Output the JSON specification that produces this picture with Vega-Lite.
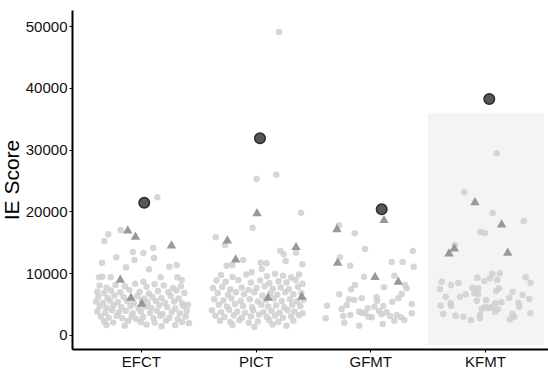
{
  "$schema": "https://vega.github.io/schema/vega-lite/v6.json",
  "width": 476,
  "height": 339,
  "autosize": "none",
  "padding": {"left": 72, "top": 10, "right": 0, "bottom": 20},
  "background": "white",
  "config": {"view": {"stroke": null}, "axis": {"grid": false}},
  "datasets": {
    "bg": [{"x1": 3.504, "x2": 4.515, "y1": -1620, "y2": 35900}],
    "pts": [
      {"pos":1.144,"score":22280},{"pos":0.717,"score":16290},{"pos":0.682,"score":15210},{"pos":0.825,"score":16990},{"pos":0.93,"score":13430},{"pos":1.022,"score":13270},{"pos":1.109,"score":14080},{"pos":0.786,"score":12570},{"pos":0.945,"score":12140},{"pos":1.115,"score":12460},{"pos":0.662,"score":11700},{"pos":0.871,"score":10950},{"pos":1.072,"score":10630},{"pos":1.249,"score":11050},{"pos":1.313,"score":11330},{"pos":0.635,"score":9340},{"pos":0.665,"score":9430},{"pos":0.738,"score":9340},{"pos":1.022,"score":8620},{"pos":1.173,"score":9340},{"pos":1.318,"score":9340},{"pos":1.356,"score":8900},
      {"pos":0.64,"score":8000},{"pos":0.70,"score":7700},{"pos":0.78,"score":8100},{"pos":0.86,"score":7900},{"pos":0.95,"score":8300},{"pos":1.05,"score":7800},{"pos":1.12,"score":8200},{"pos":1.20,"score":8000},{"pos":1.28,"score":7600},{"pos":1.35,"score":7900},
      {"pos":0.62,"score":7000},{"pos":0.68,"score":6800},{"pos":0.74,"score":7200},{"pos":0.82,"score":6900},{"pos":0.90,"score":7300},{"pos":0.99,"score":7000},{"pos":1.07,"score":6700},{"pos":1.15,"score":7100},{"pos":1.24,"score":6900},{"pos":1.31,"score":7200},{"pos":1.38,"score":6800},
      {"pos":0.63,"score":6200},{"pos":0.71,"score":6000},{"pos":0.77,"score":6400},{"pos":0.85,"score":6100},{"pos":0.97,"score":6300},{"pos":1.03,"score":5900},{"pos":1.10,"score":6200},{"pos":1.18,"score":6000},{"pos":1.26,"score":6300},{"pos":1.33,"score":5900},
      {"pos":0.61,"score":5400},{"pos":0.67,"score":5200},{"pos":0.73,"score":5600},{"pos":0.80,"score":5300},{"pos":0.88,"score":5500},{"pos":0.94,"score":5100},{"pos":1.01,"score":5600},{"pos":1.06,"score":5300},{"pos":1.13,"score":5500},{"pos":1.21,"score":5200},{"pos":1.29,"score":5400},{"pos":1.36,"score":5100},{"pos":1.41,"score":4900},
      {"pos":0.64,"score":4600},{"pos":0.70,"score":4400},{"pos":0.76,"score":4800},{"pos":0.83,"score":4500},{"pos":0.91,"score":4700},{"pos":0.98,"score":4300},{"pos":1.04,"score":4600},{"pos":1.09,"score":4400},{"pos":1.16,"score":4800},{"pos":1.23,"score":4500},{"pos":1.30,"score":4300},{"pos":1.37,"score":4700},
      {"pos":0.62,"score":3800},{"pos":0.69,"score":3600},{"pos":0.75,"score":4000},{"pos":0.81,"score":3700},{"pos":0.87,"score":3900},{"pos":0.93,"score":3500},{"pos":1.00,"score":3800},{"pos":1.08,"score":3600},{"pos":1.14,"score":3900},{"pos":1.19,"score":3400},{"pos":1.27,"score":3700},{"pos":1.34,"score":3500},{"pos":1.40,"score":3900},
      {"pos":0.65,"score":3000},{"pos":0.72,"score":2800},{"pos":0.79,"score":3100},{"pos":0.84,"score":2700},{"pos":0.92,"score":3000},{"pos":0.96,"score":2600},{"pos":1.02,"score":2900},{"pos":1.11,"score":2700},{"pos":1.17,"score":3100},{"pos":1.25,"score":2800},{"pos":1.32,"score":2600},{"pos":1.39,"score":3000},
      {"pos":0.68,"score":2200},{"pos":0.76,"score":2000},{"pos":0.89,"score":2300},{"pos":1.00,"score":2100},{"pos":1.12,"score":2000},{"pos":1.22,"score":2300},{"pos":1.36,"score":2100},
      {"pos":0.70,"score":1600},{"pos":0.86,"score":1500},{"pos":1.05,"score":1700},{"pos":1.18,"score":1400},{"pos":1.30,"score":1600},{"pos":1.42,"score":1900},
      {"pos":2.207,"score":49030},{"pos":2.010,"score":25240},{"pos":2.181,"score":25940},{"pos":2.397,"score":19790},{"pos":1.975,"score":17360},{"pos":1.653,"score":15810},{"pos":1.734,"score":14560},{"pos":2.353,"score":13320},{"pos":2.216,"score":13640},{"pos":2.245,"score":13060},{"pos":1.893,"score":12140},{"pos":1.798,"score":11330},{"pos":1.749,"score":11210},{"pos":2.045,"score":11700},{"pos":2.097,"score":11600},{"pos":2.263,"score":11970},{"pos":2.408,"score":11440},{"pos":1.967,"score":10150},{"pos":2.054,"score":10680},
      {"pos":1.70,"score":9700},{"pos":1.80,"score":9400},{"pos":1.92,"score":9800},{"pos":2.10,"score":9500},{"pos":2.17,"score":9900},{"pos":2.24,"score":9600},{"pos":2.31,"score":9300},{"pos":2.38,"score":9800},
      {"pos":1.66,"score":8800},{"pos":1.74,"score":8600},{"pos":1.85,"score":8900},{"pos":1.96,"score":8500},{"pos":2.04,"score":8800},{"pos":2.12,"score":8400},{"pos":2.20,"score":8700},{"pos":2.27,"score":8500},{"pos":2.35,"score":8900},{"pos":2.41,"score":8300},
      {"pos":1.63,"score":7600},{"pos":1.71,"score":7800},{"pos":1.78,"score":7400},{"pos":1.88,"score":7700},{"pos":1.94,"score":7300},{"pos":2.01,"score":7600},{"pos":2.08,"score":7900},{"pos":2.15,"score":7500},{"pos":2.22,"score":7700},{"pos":2.29,"score":7400},{"pos":2.37,"score":7800},
      {"pos":1.67,"score":6800},{"pos":1.76,"score":6500},{"pos":1.83,"score":6900},{"pos":1.90,"score":6600},{"pos":1.99,"score":6900},{"pos":2.06,"score":6400},{"pos":2.13,"score":6800},{"pos":2.19,"score":6500},{"pos":2.26,"score":6900},{"pos":2.33,"score":6600},{"pos":2.40,"score":6800},
      {"pos":1.64,"score":5800},{"pos":1.72,"score":5600},{"pos":1.79,"score":5900},{"pos":1.87,"score":5500},{"pos":1.95,"score":5800},{"pos":2.02,"score":5400},{"pos":2.09,"score":5700},{"pos":2.16,"score":5900},{"pos":2.23,"score":5500},{"pos":2.30,"score":5800},{"pos":2.36,"score":5400},{"pos":2.42,"score":5700},
      {"pos":1.68,"score":4900},{"pos":1.75,"score":4600},{"pos":1.82,"score":5000},{"pos":1.89,"score":4700},{"pos":1.97,"score":4500},{"pos":2.05,"score":4900},{"pos":2.11,"score":4600},{"pos":2.18,"score":4800},{"pos":2.25,"score":4500},{"pos":2.32,"score":4900},{"pos":2.39,"score":4700},
      {"pos":1.62,"score":4000},{"pos":1.70,"score":3700},{"pos":1.77,"score":4100},{"pos":1.84,"score":3800},{"pos":1.91,"score":3600},{"pos":1.98,"score":4000},{"pos":2.07,"score":3700},{"pos":2.14,"score":3900},{"pos":2.21,"score":3600},{"pos":2.28,"score":4000},{"pos":2.34,"score":3800},{"pos":2.41,"score":3500},
      {"pos":1.65,"score":3100},{"pos":1.73,"score":2900},{"pos":1.81,"score":3200},{"pos":1.88,"score":2800},{"pos":1.96,"score":3000},{"pos":2.03,"score":3300},{"pos":2.10,"score":2900},{"pos":2.17,"score":3100},{"pos":2.24,"score":2800},{"pos":2.31,"score":3000},{"pos":2.38,"score":3200},
      {"pos":1.69,"score":2300},{"pos":1.78,"score":2100},{"pos":1.86,"score":2400},{"pos":1.94,"score":2000},{"pos":2.02,"score":2200},{"pos":2.12,"score":2400},{"pos":2.20,"score":2100},{"pos":2.33,"score":2300},
      {"pos":1.80,"score":1600},{"pos":1.99,"score":1300},{"pos":2.15,"score":1700},{"pos":2.27,"score":1500},
      {"pos":2.728,"score":17750},{"pos":2.865,"score":16450},{"pos":2.955,"score":13910},{"pos":3.371,"score":13590},{"pos":2.736,"score":12570},{"pos":2.826,"score":11210},{"pos":3.187,"score":11810},{"pos":3.283,"score":11810},{"pos":3.379,"score":11050},{"pos":2.946,"score":9430},{"pos":3.210,"score":9590},{"pos":3.120,"score":7720},{"pos":3.318,"score":7560},{"pos":3.303,"score":8090},{"pos":2.867,"score":8090},{"pos":2.832,"score":7390},{"pos":2.730,"score":6590},{"pos":3.274,"score":6630},{"pos":3.056,"score":6100},{"pos":2.926,"score":5940},{"pos":2.815,"score":5780},{"pos":2.861,"score":5660},{"pos":3.245,"score":5940},{"pos":3.193,"score":5390},{"pos":2.623,"score":4740},{"pos":2.795,"score":4850},{"pos":2.978,"score":4320},{"pos":3.036,"score":4580},{"pos":3.114,"score":4690},{"pos":2.751,"score":4210},{"pos":3.362,"score":5020},{"pos":2.904,"score":3770},{"pos":2.955,"score":3510},{"pos":3.077,"score":3880},{"pos":3.143,"score":3670},{"pos":3.172,"score":3070},{"pos":3.231,"score":3240},{"pos":3.268,"score":2860},{"pos":3.362,"score":3510},{"pos":2.827,"score":3240},{"pos":2.765,"score":3070},{"pos":2.612,"score":2700},{"pos":3.014,"score":2860},{"pos":3.100,"score":3350},{"pos":2.904,"score":1500},{"pos":2.774,"score":1990},{"pos":3.109,"score":1780},{"pos":3.210,"score":2310},{"pos":3.297,"score":2430},{"pos":2.985,"score":2960},{"pos":2.926,"score":3610},{"pos":3.060,"score":5500},
      {"pos":4.103,"score":29400},{"pos":3.821,"score":23090},{"pos":4.068,"score":19740},{"pos":4.338,"score":18450},{"pos":3.963,"score":16670},{"pos":4.001,"score":16500},{"pos":3.739,"score":14560},
      {"pos":3.623,"score":8620},{"pos":3.704,"score":8090},{"pos":3.768,"score":8410},{"pos":3.934,"score":9270},{"pos":3.995,"score":8740},{"pos":4.065,"score":9920},{"pos":4.129,"score":9980},{"pos":4.108,"score":8900},{"pos":4.044,"score":9170},{"pos":4.356,"score":9340},{"pos":4.397,"score":8460},{"pos":3.608,"score":7440},{"pos":3.893,"score":7650},{"pos":3.942,"score":7560},{"pos":4.123,"score":7560},{"pos":4.097,"score":7120},{"pos":3.907,"score":6750},{"pos":3.942,"score":6630},{"pos":4.242,"score":6960},{"pos":3.658,"score":6200},{"pos":3.783,"score":6200},{"pos":3.833,"score":6590},{"pos":4.329,"score":6470},{"pos":4.212,"score":6040},{"pos":4.386,"score":5820},{"pos":3.929,"score":5550},{"pos":4.010,"score":5660},{"pos":4.091,"score":5130},{"pos":4.144,"score":5290},{"pos":4.292,"score":5230},{"pos":3.614,"score":4740},{"pos":3.701,"score":5130},{"pos":3.704,"score":4740},{"pos":4.001,"score":4580},{"pos":4.030,"score":4320},{"pos":4.059,"score":4580},{"pos":4.111,"score":4160},{"pos":4.300,"score":4580},{"pos":4.088,"score":3770},{"pos":3.972,"score":4160},{"pos":3.637,"score":3400},{"pos":3.745,"score":3120},{"pos":3.811,"score":2960},{"pos":3.879,"score":2430},{"pos":3.957,"score":3240},{"pos":3.957,"score":2700},{"pos":4.242,"score":3400},{"pos":4.256,"score":2960},{"pos":4.218,"score":2540},{"pos":4.397,"score":3510}
    ],
    "tri": [
      {"pos":0.886,"score":17100},{"pos":0.953,"score":16070},{"pos":1.267,"score":14680},{"pos":0.821,"score":9110},{"pos":0.914,"score":6200},{"pos":1.008,"score":5230},
      {"pos":2.013,"score":19900},{"pos":1.754,"score":15470},{"pos":2.353,"score":14400},{"pos":1.827,"score":12410},{"pos":2.109,"score":6200},{"pos":2.403,"score":6360},
      {"pos":3.12,"score":18770},{"pos":2.710,"score":17310},{"pos":2.716,"score":11860},{"pos":3.042,"score":9550},{"pos":3.245,"score":8790},
      {"pos":3.913,"score":21680},{"pos":4.146,"score":18070},{"pos":3.733,"score":14190},{"pos":3.687,"score":13380},{"pos":4.199,"score":13480}
    ],
    "dots": [
      {"pos":1.03,"score":21400},{"pos":2.039,"score":31830},{"pos":3.100,"score":20340},{"pos":4.038,"score":38180}
    ]
  },
  "layer": [
    {
      "data": {"name": "bg"},
      "mark": {"type": "rect", "color": "#f4f4f4"},
      "encoding": {
        "x": {"field": "x1", "type": "quantitative", "scale": {"domain": [0.4, 4.55], "nice": false, "zero": false},
          "axis": {"values": [1, 2, 3, 4], "labelExpr": "['','EFCT','PICT','GFMT','KFMT'][datum.value]", "title": null, "domainColor": "black", "domainWidth": 2, "tickColor": "black", "tickSize": 3, "labelFontSize": 15, "labelColor": "#111", "labelFont": "Liberation Sans", "labelPadding": 2}},
        "x2": {"field": "x2"},
        "y": {"field": "y1", "type": "quantitative", "scale": {"domain": [-2270, 52600], "nice": false, "zero": false},
          "axis": {"values": [0, 5000, 10000, 15000, 20000, 25000, 30000, 35000, 40000, 45000, 50000], "format": "d", "labelExpr": "datum.value % 10000 == 0 ? datum.label : ''", "title": "IE Score", "titleFontSize": 21, "titleFontWeight": "normal", "titleFont": "Liberation Sans", "titleColor": "black", "titlePadding": 3, "domainColor": "black", "domainWidth": 2, "tickColor": "black", "tickSize": 3, "labelFontSize": 15, "labelColor": "#111", "labelFont": "Liberation Sans", "labelPadding": 2}},
        "y2": {"field": "y2"}
      }
    },
    {
      "data": {"name": "pts"},
      "mark": {"type": "circle", "size": 42, "color": "#cfcfcf", "opacity": 0.85},
      "encoding": {
        "x": {"field": "pos", "type": "quantitative"},
        "y": {"field": "score", "type": "quantitative"}
      }
    },
    {
      "data": {"name": "tri"},
      "mark": {"type": "point", "shape": "triangle-up", "size": 90, "filled": true, "color": "#8e8e8e", "opacity": 0.9},
      "encoding": {
        "x": {"field": "pos", "type": "quantitative"},
        "y": {"field": "score", "type": "quantitative"}
      }
    },
    {
      "data": {"name": "dots"},
      "mark": {"type": "point", "shape": "circle", "size": 110, "filled": true, "fill": "#575757", "stroke": "#2a2a2a", "strokeWidth": 1.5, "opacity": 1},
      "encoding": {
        "x": {"field": "pos", "type": "quantitative"},
        "y": {"field": "score", "type": "quantitative"}
      }
    }
  ]
}
